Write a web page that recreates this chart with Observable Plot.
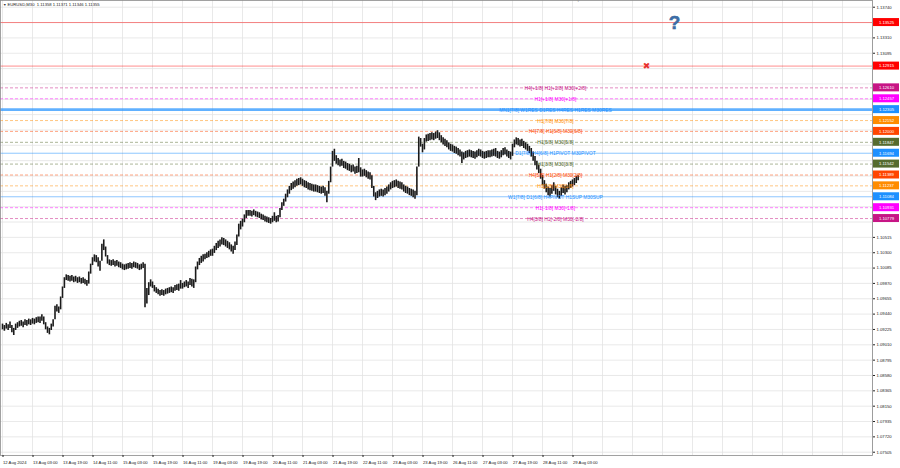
<!DOCTYPE html>
<html><head><meta charset="utf-8">
<script src="https://cdn.jsdelivr.net/npm/d3@7"></script>
<script src="https://cdn.jsdelivr.net/npm/@observablehq/plot@0.6"></script>
<style>html,body{margin:0;padding:0;background:#fff}svg{display:block}</style>
</head><body><div id="chart"></div>
<script>
// Hourly-aggregated EURUSD bars (low / high)
const barLow = [
1.0922,1.0920,1.0923,1.0921,1.0924,1.0918,1.0914,1.0921,1.0924,1.0926,
1.0927,1.0925,1.0928,1.0927,1.0929,1.0928,1.0930,1.0929,1.0931,1.0932,
1.0931,1.0934,1.0929,1.0922,1.0917,1.0915,1.0921,1.0926,1.0936,1.0947,
1.0945,1.0950,1.0966,1.0980,1.0991,1.0990,1.0989,1.0990,1.0988,1.0989,
1.0987,1.0988,1.0986,1.0987,1.0985,1.0983,1.0986,1.1000,1.1012,1.1017,
1.1016,1.1010,1.1004,1.1018,1.1033,1.1024,1.1014,1.1012,1.1011,1.1012,
1.1010,1.1011,1.1009,1.1008,1.1006,1.1005,1.1006,1.1007,1.1008,1.1007,
1.1009,1.1008,1.1007,1.1005,1.1006,1.1008,1.0953,1.0958,1.0970,1.0982,
1.0980,1.0975,1.0973,1.0971,1.0969,1.0970,1.0969,1.0971,1.0972,1.0973,
1.0974,1.0973,1.0976,1.0977,1.0976,1.0979,1.0979,1.0981,1.0982,1.0980,
1.0984,1.0982,1.0980,1.0988,1.1006,1.1012,1.1015,1.1017,1.1020,1.1022,
1.1023,1.1025,1.1025,1.1029,1.1033,1.1036,1.1038,1.1041,1.1040,1.1038,
1.1036,1.1034,1.1031,1.1028,1.1033,1.1040,1.1052,1.1062,1.1066,1.1072,
1.1078,1.1081,1.1081,1.1080,1.1082,1.1080,1.1079,1.1078,1.1076,1.1075,
1.1073,1.1072,1.1071,1.1070,1.1072,1.1074,1.1072,1.1073,1.1079,1.1089,
1.1095,1.1101,1.1107,1.1112,1.1117,1.1119,1.1121,1.1123,1.1124,1.1125,
1.1123,1.1121,1.1120,1.1118,1.1117,1.1116,1.1115,1.1115,1.1114,1.1113,
1.1112,1.1113,1.1109,1.1100,1.1112,1.1128,1.1150,1.1158,1.1154,1.1152,
1.1150,1.1151,1.1148,1.1147,1.1145,1.1144,1.1142,1.1143,1.1140,1.1141,
1.1142,1.1136,1.1136,1.1137,1.1135,1.1133,1.1132,1.1120,1.1108,1.1103,
1.1106,1.1108,1.1109,1.1108,1.1110,1.1112,1.1115,1.1118,1.1120,1.1121,
1.1122,1.1120,1.1119,1.1118,1.1115,1.1113,1.1112,1.1110,1.1109,1.1107,
1.1105,1.1110,1.1150,1.1178,1.1170,1.1174,1.1185,1.1186,1.1187,1.1188,
1.1187,1.1189,1.1190,1.1187,1.1184,1.1181,1.1179,1.1177,1.1174,1.1172,
1.1171,1.1169,1.1168,1.1166,1.1164,1.1155,1.1160,1.1162,1.1163,1.1164,
1.1163,1.1162,1.1161,1.1163,1.1165,1.1164,1.1162,1.1161,1.1162,1.1163,
1.1163,1.1164,1.1165,1.1164,1.1162,1.1161,1.1163,1.1166,1.1167,1.1164,
1.1162,1.1160,1.1165,1.1177,1.1181,1.1180,1.1178,1.1179,1.1176,1.1174,
1.1172,1.1169,1.1164,1.1158,1.1152,1.1146,1.1141,1.1133,1.1124,1.1119,
1.1114,1.1110,1.1108,1.1112,1.1116,1.1111,1.1107,1.1105,1.1109,1.1113,
1.1111,1.1114,1.1118,1.1120,1.1122,1.1124,1.1127,1.1131
];
const barHigh = [
1.0930,1.0928,1.0931,1.0929,1.0933,1.0928,1.0924,1.0930,1.0932,1.0934,
1.0935,1.0933,1.0936,1.0935,1.0937,1.0936,1.0938,1.0937,1.0939,1.0940,
1.0940,1.0943,1.0940,1.0932,1.0926,1.0924,1.0930,1.0936,1.0955,1.0957,
1.0954,1.0968,1.0982,1.0995,1.0999,1.0998,1.0997,1.0998,1.0996,1.0997,
1.0995,1.0996,1.0994,1.0995,1.0993,1.0991,1.1003,1.1014,1.1023,1.1027,
1.1026,1.1023,1.1018,1.1042,1.1048,1.1038,1.1026,1.1020,1.1019,1.1020,
1.1018,1.1019,1.1017,1.1016,1.1014,1.1013,1.1014,1.1015,1.1016,1.1015,
1.1017,1.1016,1.1015,1.1013,1.1014,1.1016,1.1014,1.0980,1.0988,1.0992,
1.0989,1.0984,1.0981,1.0979,1.0977,1.0978,1.0977,1.0979,1.0980,1.0981,
1.0982,1.0981,1.0984,1.0985,1.0986,1.0991,1.0987,1.0989,1.0991,1.0989,
1.0994,1.0993,1.0992,1.1010,1.1017,1.1022,1.1025,1.1027,1.1028,1.1030,
1.1032,1.1034,1.1035,1.1039,1.1043,1.1046,1.1048,1.1051,1.1050,1.1048,
1.1046,1.1044,1.1041,1.1039,1.1045,1.1055,1.1070,1.1074,1.1077,1.1083,
1.1089,1.1089,1.1089,1.1088,1.1090,1.1088,1.1087,1.1086,1.1084,1.1083,
1.1081,1.1080,1.1079,1.1078,1.1081,1.1086,1.1081,1.1082,1.1092,1.1100,
1.1105,1.1112,1.1118,1.1123,1.1127,1.1129,1.1131,1.1133,1.1134,1.1135,
1.1133,1.1131,1.1130,1.1128,1.1127,1.1126,1.1125,1.1125,1.1124,1.1123,
1.1122,1.1123,1.1121,1.1116,1.1130,1.1150,1.1172,1.1175,1.1166,1.1162,
1.1160,1.1161,1.1158,1.1157,1.1155,1.1154,1.1152,1.1153,1.1150,1.1151,
1.1162,1.1149,1.1146,1.1147,1.1145,1.1143,1.1142,1.1138,1.1123,1.1114,
1.1116,1.1118,1.1119,1.1118,1.1120,1.1122,1.1125,1.1128,1.1130,1.1131,
1.1132,1.1130,1.1129,1.1128,1.1125,1.1123,1.1122,1.1120,1.1119,1.1118,
1.1116,1.1150,1.1192,1.1190,1.1182,1.1190,1.1195,1.1196,1.1197,1.1198,
1.1197,1.1199,1.1201,1.1198,1.1194,1.1191,1.1189,1.1187,1.1184,1.1182,
1.1181,1.1179,1.1178,1.1176,1.1174,1.1171,1.1170,1.1172,1.1173,1.1174,
1.1173,1.1172,1.1171,1.1173,1.1175,1.1174,1.1172,1.1171,1.1172,1.1173,
1.1173,1.1174,1.1175,1.1176,1.1172,1.1171,1.1173,1.1176,1.1177,1.1174,
1.1172,1.1171,1.1182,1.1188,1.1191,1.1190,1.1188,1.1189,1.1186,1.1184,
1.1182,1.1179,1.1176,1.1171,1.1165,1.1158,1.1153,1.1147,1.1138,1.1131,
1.1126,1.1122,1.1120,1.1124,1.1128,1.1123,1.1119,1.1116,1.1121,1.1125,
1.1123,1.1124,1.1128,1.1130,1.1132,1.1134,1.1137,1.1138
];

// time axis: a label every 16 hourly bars
const timeTickLabels = ["12 Aug 2024","13 Aug 03:00","13 Aug 19:00","14 Aug 11:00","15 Aug 03:00",
  "15 Aug 19:00","16 Aug 11:00","19 Aug 03:00","19 Aug 19:00","20 Aug 11:00","21 Aug 03:00",
  "21 Aug 19:00","22 Aug 11:00","23 Aug 03:00","23 Aug 19:00","26 Aug 11:00","27 Aug 03:00",
  "27 Aug 19:00","28 Aug 11:00","29 Aug 03:00"];
const barsPerTimeTick = 16;
const gridTickCount = 30;

const priceTicks = [1.07505,1.07720,1.07935,1.08150,1.08365,1.08580,1.08795,1.09010,1.09225,1.09440,
  1.09655,1.09870,1.10085,1.10300,1.10515,1.10730,1.10945,1.11160,1.11375,1.11590,
  1.11805,1.12020,1.12235,1.12450,1.12665,1.12880,1.13095,1.13310,1.13525,1.13740];

// Murrey-style levels
const levelPrices = [1.12610,1.12457,1.12305,1.12152,1.12000,1.11847,1.11694,1.11542,1.11389,1.11237,1.11084,1.10931,1.10779];
const levelLabels = ["H4[+1/8] H1[+2/8] M30[+2/8]","H1[+1/8] M30[+1/8]","MN1[7/8] W1RES D1RES H4RES H1RES M30RES",
  "H1[7/8] M30[7/8]","H4[7/8] H1[6/8] M30[6/8]","H1[5/8] M30[5/8]","D1[7/8] H4[6/8] H1PIVOT M30PIVOT",
  "H1[3/8] M30[3/8]","H4[5/8] H1[2/8] M30[2/8]","H1[1/8] M30[1/8]","W1[7/8] D1[6/8] H4PIVOT H1SUP M30SUP",
  "H1[-1/8] M30[-1/8]","H4[3/8] H1[-2/8] M30[-2/8]"];
const levelKinds = ["ext2","ext1","res","h1outer","h4","h1inner","pivot","h1inner","h4","h1outer","sup","ext1","ext2"];

const alertPrices = [1.13525, 1.12915];

const markerSymbols = ["?", "✖"];
const markerPrices = [1.13525, 1.12915];
const markerBars = [358.4, 343.5];
const labelBar = 294.9;

const headerText = "EURUSD,M30  1.11358 1.11371 1.11346 1.11355";

// ---- styles ----
const kindColor = {ext2:"#c71585", ext1:"#ff00ff", res:"#1e90ff", pivot:"#1e90ff", sup:"#1e90ff",
  h1outer:"#ff8c00", h4:"#ff4500", h1inner:"#556b2f", alert:"#ff0000"};
const FONT = "'Liberation Sans', Arial, sans-serif";

// ---- tables ----
const bars = barLow.map((lo, i) => ({i, lo, hi: barHigh[i]}));
const levels = levelPrices.map((p, i) => ({price: p, label: levelLabels[i], kind: levelKinds[i]}));
const boxes = [...alertPrices.map(p => ({price: p, kind: "alert"})), ...levels];
const markers = markerSymbols.map((s, i) => ({sym: s, price: markerPrices[i], bar: markerBars[i]}));
const timeTicks = timeTickLabels.map((_, k) => k * barsPerTimeTick);
const gridTicks = d3.range(gridTickCount).map(k => k * barsPerTimeTick);

const xDomain = [-1.07, 464];
const yDomain = [1.07459, 1.13834];

// price labels hidden behind the coloured level boxes are not drawn
const boxClearance = 0.00092;
const labelTicks = priceTicks.filter(t => boxes.every(b => Math.abs(b.price - t) > boxClearance));

const dashed = levels.filter(d => !["res","pivot","sup"].includes(d.kind));
const solidThin = levels.filter(d => d.kind === "pivot" || d.kind === "sup");
const thick = levels.filter(d => d.kind === "res");

const chart = Plot.plot({
  width: 900, height: 468,
  marginTop: 0, marginRight: 28, marginBottom: 13, marginLeft: 0,
  x: {domain: xDomain, axis: null},
  y: {domain: yDomain, axis: null},
  style: {fontFamily: FONT, background: "#fff", overflow: "visible"},
  marks: [
    Plot.ruleX(gridTicks, {stroke: "#e3e3e3", strokeWidth: 0.8}),
    Plot.ruleY(priceTicks, {stroke: "#e3e3e3", strokeWidth: 0.8}),
    Plot.ruleY(alertPrices, {stroke: "#ff0000", strokeOpacity: 0.45, strokeWidth: 1}),
    Plot.ruleY(dashed, {y: "price", stroke: d => kindColor[d.kind], strokeOpacity: 0.55, strokeDasharray: "3,2", strokeWidth: 0.9}),
    Plot.ruleY(solidThin, {y: "price", stroke: d => kindColor[d.kind], strokeOpacity: 0.5, strokeWidth: 1}),
    Plot.ruleY(thick, {y: "price", stroke: d => kindColor[d.kind], strokeOpacity: 0.7, strokeWidth: 2.6}),
    Plot.ruleX(bars, {x: "i", y1: "lo", y2: "hi", stroke: "#1a1a1a", strokeWidth: 1.6}),
    Plot.text(levels, {x: () => labelBar, y: "price", text: "label", fill: d => kindColor[d.kind], fontSize: 4.9, dy: 0.5}),
    Plot.text(markers.filter(d => d.sym === "?"), {x: "bar", y: "price", text: "sym", fill: "#3b6ea8", stroke: "#244a78", strokeWidth: 0.4, fontSize: 19, fontWeight: "bold"}),
    Plot.text(markers.filter(d => d.sym !== "?"), {x: "bar", y: "price", text: "sym", fill: "#e8322e", fontSize: 9, fontFamily: "DejaVu Sans"}),
    Plot.frame({stroke: "#8a8a8a", strokeWidth: 0.8}),
    Plot.axisY(labelTicks, {anchor: "right", tickSize: 2, tickPadding: 2, tickFormat: d => d.toFixed(5), fontSize: 4.2, color: "#222"}),
    Plot.axisX(timeTicks, {anchor: "bottom", tickSize: 2, tickPadding: 3.5, tickFormat: d => timeTickLabels[d / barsPerTimeTick], textAnchor: "start", fontSize: 4.2, color: "#222", dx: 0.5}),
    Plot.rect(boxes, {x1: () => xDomain[1], x2: () => xDomain[1], y1: "price", y2: "price", insetLeft: 1, insetRight: -27, insetTop: -4, insetBottom: -4, fill: d => kindColor[d.kind]}),
    Plot.text(boxes, {x: () => xDomain[1], y: "price", text: d => d.price.toFixed(5), dx: 14, fill: "#fff", fontSize: 4.2}),
    Plot.text([headerText], {frameAnchor: "top-left", dx: 7, dy: 3, text: d => d, textAnchor: "start", lineAnchor: "top", fontSize: 4.2, fill: "#222"}),
    Plot.text(["▼"], {frameAnchor: "top-left", dx: 2.5, dy: 3, text: d => d, textAnchor: "start", lineAnchor: "top", fontSize: 3.6, fill: "#333"}),
    Plot.text([bars.length - 1], {x: d => d, frameAnchor: "top", text: () => "▼", lineAnchor: "top", dy: -1, fontSize: 4, fill: "#999"})
  ]
});
document.getElementById("chart").appendChild(chart);
</script>
</body></html>
